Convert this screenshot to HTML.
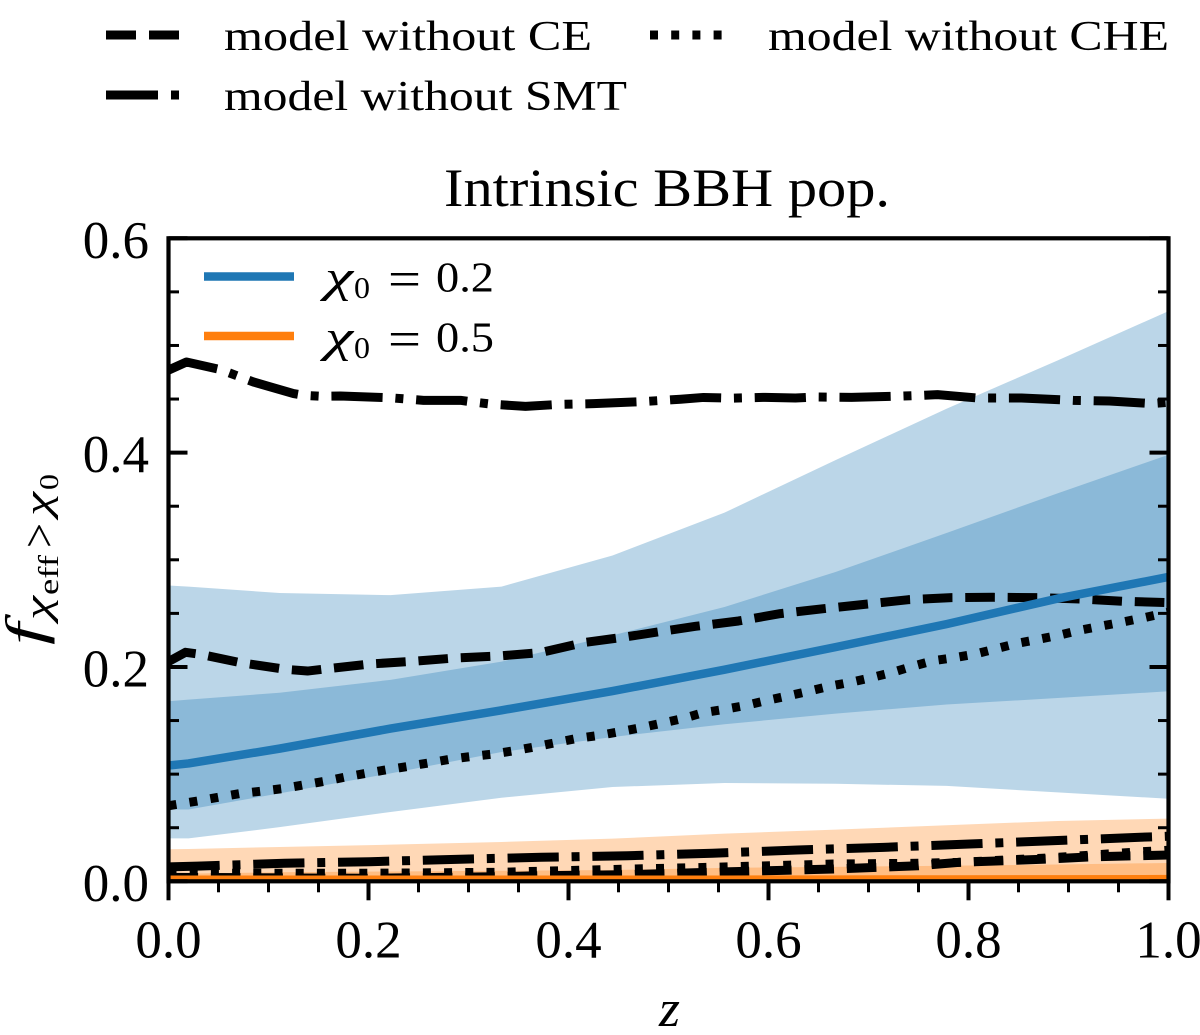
<!DOCTYPE html>
<html lang="en">
<head>
<meta charset="utf-8">
<title>Intrinsic BBH pop.</title>
<style>
html,body{margin:0;padding:0;background:#fff;width:1200px;height:1035px;overflow:hidden}
svg{display:block}
text{font-family:"Liberation Serif",serif;fill:#000}
.it{font-style:italic}
</style>
</head>
<body>
<svg id="chart" xmlns="http://www.w3.org/2000/svg" width="1200" height="1035" viewBox="0 0 1200 1035">
  <defs><clipPath id="plot-clip"><rect x="168.5" y="238.3" width="1000" height="643"/></clipPath></defs>
  <g id="plot" clip-path="url(#plot-clip)"></g>
  <g id="axes"></g>

  <text x="444" y="206" font-size="54" textLength="446" lengthAdjust="spacingAndGlyphs">Intrinsic BBH pop.</text>

  <g>
    <g>
      <line x1="106" y1="35" x2="180" y2="35" stroke="#000" stroke-width="9" stroke-dasharray="30 13"/>
      <text x="224" y="50" font-size="42" textLength="368" lengthAdjust="spacingAndGlyphs">model without CE</text>
    </g>
    <g>
      <line x1="650" y1="35" x2="724" y2="35" stroke="#000" stroke-width="9" stroke-dasharray="8 13.2"/>
      <text x="768" y="50" font-size="42" textLength="401" lengthAdjust="spacingAndGlyphs">model without CHE</text>
    </g>
    <g>
      <line x1="106" y1="95" x2="180" y2="95" stroke="#000" stroke-width="9" stroke-dasharray="52 13 8 13"/>
      <text x="224" y="110" font-size="42" textLength="403" lengthAdjust="spacingAndGlyphs">model without SMT</text>
    </g>
  </g>

  <g>
    <g>
      <line x1="204" y1="276.5" x2="294" y2="276.5" stroke="#1f77b4" stroke-width="8.5"/>
      <text class="it" x="325" y="291.7" font-size="44" textLength="28" lengthAdjust="spacingAndGlyphs">χ</text>
      <text x="354" y="298" font-size="31" textLength="16" lengthAdjust="spacingAndGlyphs">0</text>
      <text x="388" y="296" font-size="50" textLength="33" lengthAdjust="spacingAndGlyphs">=</text>
      <text x="436" y="291.7" font-size="42" textLength="58" lengthAdjust="spacingAndGlyphs">0.2</text>
    </g>
    <g>
      <line x1="204" y1="336" x2="294" y2="336" stroke="#ff7f0e" stroke-width="8.5"/>
      <text class="it" x="325" y="351.7" font-size="44" textLength="28" lengthAdjust="spacingAndGlyphs">χ</text>
      <text x="354" y="358" font-size="31" textLength="16" lengthAdjust="spacingAndGlyphs">0</text>
      <text x="388" y="356" font-size="50" textLength="33" lengthAdjust="spacingAndGlyphs">=</text>
      <text x="436" y="351.7" font-size="42" textLength="58" lengthAdjust="spacingAndGlyphs">0.5</text>
    </g>
  </g>

  <text class="it" x="659" y="1026" font-size="52" textLength="21" lengthAdjust="spacingAndGlyphs">z</text>

  <g>
    <text class="it" transform="translate(43,645) rotate(-90)" font-size="54" textLength="22" lengthAdjust="spacingAndGlyphs">f</text>
    <text class="it" transform="translate(50,620) rotate(-90)" font-size="37" textLength="24" lengthAdjust="spacingAndGlyphs">χ</text>
    <text transform="translate(58,595) rotate(-90)" font-size="28" textLength="40" lengthAdjust="spacingAndGlyphs">eff</text>
    <text transform="translate(55,548) rotate(-90)" font-size="48" textLength="25" lengthAdjust="spacingAndGlyphs">&gt;</text>
    <text class="it" transform="translate(50,516) rotate(-90)" font-size="37" textLength="24" lengthAdjust="spacingAndGlyphs">χ</text>
    <text transform="translate(58,490) rotate(-90)" font-size="27" textLength="16" lengthAdjust="spacingAndGlyphs">0</text>
  </g>
</svg>

<script>
const xTickLabels = ["0.0","0.2","0.4","0.6","0.8","1.0"];
const xTickValues = [0,0.2,0.4,0.6,0.8,1];
const xMinorValues = [0.05,0.1,0.15,0.25,0.3,0.35,0.45,0.5,0.55,0.65,0.7,0.75,0.85,0.9,0.95];
const yTickLabels = ["0.0","0.2","0.4","0.6"];
const yTickValues = [0,0.2,0.4,0.6];
const yMinorValues = [0.05,0.1,0.15,0.25,0.3,0.35,0.45,0.5,0.55];

const bandZ = [0,0.02,0.111,0.222,0.333,0.444,0.556,0.667,0.778,0.889,1];
const blueOuterUpper = [0.276,0.275,0.269,0.267,0.275,0.304,0.344,0.393,0.441,0.486,0.532];
const blueOuterLower = [0.04,0.04,0.0505,0.0647,0.078,0.088,0.0917,0.091,0.089,0.083,0.077];
const blueInnerUpper = [0.168,0.1695,0.176,0.188,0.205,0.2295,0.256,0.2886,0.325,0.362,0.398];
const blueInnerLower = [0.067,0.067,0.082,0.1007,0.1207,0.1347,0.1465,0.1565,0.165,0.171,0.1773];
const blueMedian = [0.108,0.11,0.1238,0.1425,0.1596,0.1775,0.1975,0.2185,0.24,0.2638,0.284];
const orangeOuterUpper = [0.0299,0.0302,0.032,0.0342,0.0367,0.0398,0.0445,0.0482,0.0523,0.0563,0.0585];
const orangeOuterLower = [0.0005,0.0005,0.0005,0.0005,0.0005,0.0005,0.0005,0.0005,0.0005,0.0005,0.0005];
const orangeInnerUpper = [0.007,0.0072,0.0085,0.0092,0.0098,0.0105,0.0125,0.0135,0.0145,0.0157,0.0171];
const orangeInnerLower = [0.001,0.001,0.001,0.001,0.001,0.001,0.001,0.001,0.001,0.001,0.001];
const orangeMedian = [0.0015,0.0015,0.0015,0.0015,0.0015,0.0015,0.0015,0.0016,0.0017,0.0018,0.002];

const ceHighZ = [0,0.017,0.032,0.072,0.117,0.139,0.159,0.202,0.245,0.287,0.33,0.372,0.415,0.457,0.5,0.527,0.57,0.612,0.655,0.697,0.74,0.783,0.825,0.869,0.912,0.954,1];
const ceHighV = [0.205,0.2137,0.2118,0.204,0.1978,0.1962,0.1984,0.2028,0.2053,0.2084,0.2102,0.2134,0.2227,0.228,0.2342,0.2379,0.2429,0.2498,0.2544,0.2585,0.2628,0.2647,0.265,0.2647,0.2634,0.2613,0.26];

const cheHighZ = [0,0.029,0.05,0.071,0.092,0.114,0.135,0.156,0.177,0.199,0.219,0.24,0.262,0.283,0.304,0.325,0.346,0.368,0.389,0.409,0.431,0.452,0.473,0.494,0.514,0.535,0.556,0.578,0.599,0.619,0.64,0.661,0.682,0.703,0.724,0.744,0.765,0.786,0.807,0.828,0.849,0.87,0.89,0.911,0.933,0.954,0.974,1];
const cheHighV = [0.0705,0.0749,0.0784,0.0818,0.084,0.0865,0.0899,0.0933,0.0973,0.101,0.1042,0.1073,0.1107,0.1141,0.1166,0.1188,0.1219,0.1257,0.1297,0.1334,0.1362,0.1397,0.1434,0.1477,0.1518,0.1574,0.1605,0.1642,0.1689,0.1729,0.1773,0.182,0.1857,0.1901,0.195,0.2006,0.2059,0.2087,0.2121,0.2171,0.2221,0.2258,0.2295,0.2342,0.2382,0.2419,0.2457,0.251];

const smtHighZ = [0,0.018,0.052,0.085,0.125,0.135,0.152,0.172,0.22,0.255,0.292,0.305,0.324,0.357,0.392,0.425,0.472,0.512,0.535,0.562,0.597,0.627,0.648,0.683,0.734,0.755,0.769,0.809,0.853,0.905,0.941,0.983,1];
const smtHighV = [0.477,0.4846,0.4775,0.4659,0.4551,0.4535,0.4526,0.4528,0.4513,0.4488,0.4488,0.4472,0.4451,0.4432,0.4451,0.4457,0.4475,0.4498,0.4515,0.4508,0.4516,0.451,0.4519,0.4516,0.4528,0.4535,0.4541,0.451,0.451,0.4488,0.4482,0.4458,0.447];

const smtLowZ = [0,0.029,0.116,0.201,0.287,0.373,0.459,0.544,0.629,0.715,0.801,0.886,0.972,1];
const smtLowV = [0.0135,0.0142,0.0168,0.0183,0.0205,0.0224,0.0239,0.0262,0.0292,0.0317,0.0348,0.0379,0.0411,0.042];

const ceLowZ = [0,0.2,0.33,0.37,0.46,0.54,0.665,0.75,0.79,0.835,0.88,0.925,0.97,1];
const ceLowV = [0.0037,0.0028,0.0043,0.0052,0.0062,0.0084,0.0115,0.0145,0.0177,0.0192,0.0208,0.0229,0.0239,0.0245];

const cheLowZ = [0,0.2,0.33,0.46,0.54,0.665,0.75,0.79,0.88,0.97,1];
const cheLowV = [0.0075,0.0075,0.0084,0.0114,0.013,0.0161,0.0168,0.0177,0.0218,0.0274,0.029];

const SVGNS = "http://www.w3.org/2000/svg";
const plot = document.getElementById("plot");
const axes = document.getElementById("axes");
const X0 = 168.5, X1 = 1168.5, Y0 = 881.3, Y1 = 238.3;
function xScale(z){ return X0 + (X1 - X0) * z; }
function yScale(v){ return Y0 + (Y1 - Y0) * v / 0.6; }

function bandPath(zs, upper, lower){
  const top = zs.map((z,i)=>xScale(z).toFixed(2)+","+yScale(upper[i]).toFixed(2));
  const bottom = zs.map((z,i)=>xScale(z).toFixed(2)+","+yScale(lower[i]).toFixed(2)).reverse();
  return "M"+top.join("L")+"L"+bottom.join("L")+"Z";
}
function linePath(zs, vs){
  return "M"+zs.map((z,i)=>xScale(z).toFixed(2)+","+yScale(vs[i]).toFixed(2)).join("L");
}
function addBand(name, zs, upper, lower, color){
  const el = document.createElementNS(SVGNS,"path");
  el.setAttribute("d", bandPath(zs, upper, lower));
  el.setAttribute("fill", color);
  el.setAttribute("fill-opacity", "0.3");
  el.setAttribute("stroke", "none");
  
  
  plot.appendChild(el);
}
function addLine(name, zs, vs, color, dash, width){
  const el = document.createElementNS(SVGNS,"path");
  el.setAttribute("d", linePath(zs, vs));
  el.setAttribute("fill", "none");
  el.setAttribute("stroke", color);
  el.setAttribute("stroke-width", width);
  el.setAttribute("stroke-linejoin", "round");
  if (dash) el.setAttribute("stroke-dasharray", dash);
  
  
  plot.appendChild(el);
}
function addTick(name, x1, y1, x2, y2, width){
  const el = document.createElementNS(SVGNS,"line");
  el.setAttribute("x1", x1);
  el.setAttribute("y1", y1);
  el.setAttribute("x2", x2);
  el.setAttribute("y2", y2);
  el.setAttribute("stroke", "#000");
  el.setAttribute("stroke-width", width);
  
  
  axes.appendChild(el);
}
function addTickLabel(name, x, y, anchor, label){
  const el = document.createElementNS(SVGNS,"text");
  el.setAttribute("x", x);
  el.setAttribute("y", y);
  el.setAttribute("text-anchor", anchor);
  el.setAttribute("font-size", "53");
  el.textContent = label;
  
  
  axes.appendChild(el);
}

addBand("blue-band-outer", bandZ, blueOuterUpper, blueOuterLower, "#1f77b4");
addBand("blue-band-inner", bandZ, blueInnerUpper, blueInnerLower, "#1f77b4");
addBand("orange-band-outer", bandZ, orangeOuterUpper, orangeOuterLower, "#ff7f0e");
addBand("orange-band-inner", bandZ, orangeInnerUpper, orangeInnerLower, "#ff7f0e");

const DASHED = "29.6 12.8";
const DOTTED = "8 13.2";
const DASHDOT = "51.2 12.8 8 12.8";
addLine("line-without-ce-chi-0-2", ceHighZ, ceHighV, "#000", DASHED, 9);
addLine("line-without-che-chi-0-2", cheHighZ, cheHighV, "#000", DOTTED, 9);
addLine("line-without-smt-chi-0-2", smtHighZ, smtHighV, "#000", DASHDOT, 9);
addLine("line-without-ce-chi-0-5", ceLowZ, ceLowV, "#000", DASHED, 9);
addLine("line-without-che-chi-0-5", cheLowZ, cheLowV, "#000", DOTTED, 9);
addLine("line-without-smt-chi-0-5", smtLowZ, smtLowV, "#000", DASHDOT, 9);
addLine("median-line-chi-0-2", bandZ, blueMedian, "#1f77b4", null, 8.5);
addLine("median-line-chi-0-5", bandZ, orangeMedian, "#ff7f0e", null, 8.5);

xTickValues.forEach((z,i)=>{
  addTick("x-major-tick", xScale(z), Y0, xScale(z), Y0+19, 4);
  addTickLabel("x-tick-label", xScale(z), 957.5, "middle", xTickLabels[i]);
});
xMinorValues.forEach((z)=>{
  addTick("x-minor-tick", xScale(z), Y0, xScale(z), Y0+11, 3);
});
yTickValues.forEach((v,i)=>{
  addTick("y-major-tick-left", X0, yScale(v), X0+19, yScale(v), 4);
  addTick("y-major-tick-right", X1, yScale(v), X1-19, yScale(v), 4);
  addTickLabel("y-tick-label", 149, yScale(v)+19.5, "end", yTickLabels[i]);
});
yMinorValues.forEach((v)=>{
  addTick("y-minor-tick-left", X0, yScale(v), X0+10.5, yScale(v), 3);
  addTick("y-minor-tick-right", X1, yScale(v), X1-10.5, yScale(v), 3);
});

const spines = document.createElementNS(SVGNS,"rect");
spines.setAttribute("x", X0);
spines.setAttribute("y", Y1);
spines.setAttribute("width", X1-X0);
spines.setAttribute("height", Y0-Y1);
spines.setAttribute("fill", "none");
spines.setAttribute("stroke", "#000");
spines.setAttribute("stroke-width", "4.2");


axes.appendChild(spines);
</script>
</body>
</html>
